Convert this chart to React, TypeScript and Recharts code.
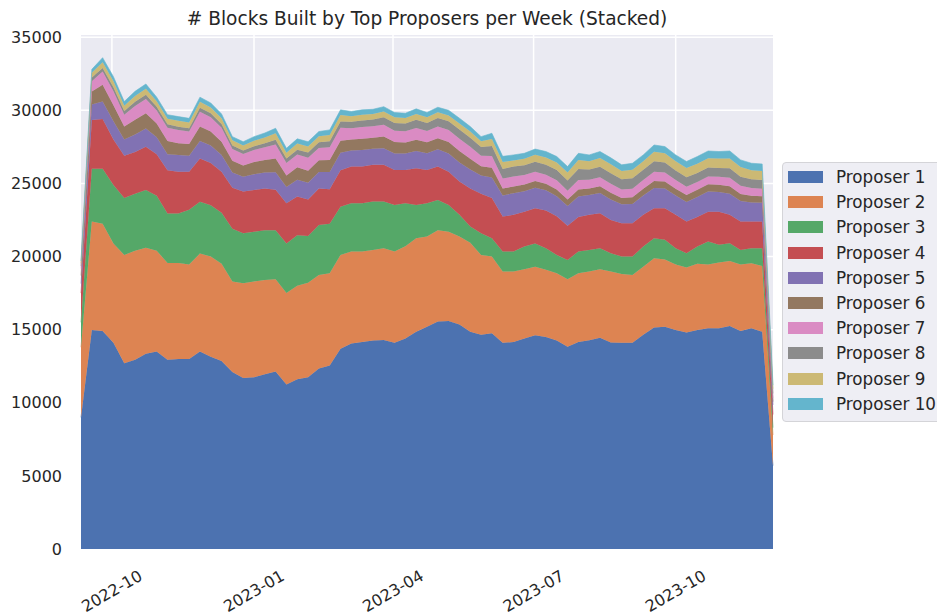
import { AreaChart, Area, XAxis, YAxis, CartesianGrid } from 'recharts'

// weekly buckets, pandas-style week ends (Sundays)
const WEEK_START = Date.UTC(2022, 8, 11)
const WEEK_COUNT = 65
const DAY = 86400000

const X_TICKS = [
	Date.UTC(2022, 9, 1),
	Date.UTC(2023, 0, 1),
	Date.UTC(2023, 3, 1),
	Date.UTC(2023, 6, 1),
	Date.UTC(2023, 9, 1),
]
const Y_TICKS = [0, 5000, 10000, 15000, 20000, 25000, 30000, 35000]

const SERIES_NAMES = [
	'Proposer 1',
	'Proposer 2',
	'Proposer 3',
	'Proposer 4',
	'Proposer 5',
	'Proposer 6',
	'Proposer 7',
	'Proposer 8',
	'Proposer 9',
	'Proposer 10',
]

// seaborn "deep" palette
const COLORS = ['#4C72B0', '#DD8452', '#55A868', '#C44E52', '#8172B3', '#937860', '#DA8BC3', '#8C8C8C', '#CCB974', '#64B5CD']

const p1 = [
	9000, 14980, 14900, 14100, 12700, 12950, 13350, 13500, 12950, 13000,
	13000, 13500, 13150, 12850, 12100, 11700, 11750, 11950, 12130, 11250,
	11600, 11750, 12350, 12550, 13700, 14050, 14150, 14250, 14300, 14100,
	14400, 14850, 15200, 15550, 15600, 15350, 14850, 14650, 14750, 14100,
	14150, 14400, 14620, 14500, 14250, 13830, 14150, 14280, 14450, 14120,
	14110, 14110, 14650, 15150, 15200, 14980, 14800, 14980, 15090, 15100,
	15250, 14900, 15090, 14860, 5700,
]
const p2 = [
	4800, 7420, 7350, 6800, 7400, 7450, 7250, 6900, 6600, 6550,
	6450, 6700, 6850, 6650, 6200, 6470, 6550, 6450, 6320, 6250,
	6400, 6450, 6390, 6310, 6400, 6290, 6190, 6200, 6270, 6240,
	6300, 6400, 6170, 6250, 6100, 6020, 6100, 5450, 5250, 4870,
	4820, 4730, 4680, 4600, 4610, 4620, 4700, 4690, 4680, 4850,
	4690, 4630, 4650, 4730, 4600, 4470, 4450, 4520, 4360, 4490,
	4450, 4550, 4450, 4500, 2100,
]
const p3 = [
	1700, 3600, 3750, 4000, 3900, 3900, 3950, 3750, 3400, 3400,
	3750, 3550, 3500, 3500, 3600, 3430, 3400, 3400, 3350, 3400,
	3450, 3200, 3410, 3390, 3300, 3300, 3300, 3310, 3190, 3190,
	2940, 2280, 2270, 2070, 1830, 1480, 1100, 1490, 1250, 1370,
	1370, 1550, 1600, 1470, 1240, 1320, 1490, 1480, 1440, 1260,
	1200, 1260, 1380, 1370, 1340, 1120, 980, 1180, 1570, 1210,
	1210, 1000, 1030, 1210, 500,
]
const p4 = [
	2000, 3340, 3400, 3100, 2900, 2850, 2950, 2850, 2950, 2850,
	2600, 2950, 2900, 2800, 2800, 2850, 2850, 2850, 2760, 2750,
	2650, 2500, 2500, 2350, 2500, 2510, 2510, 2510, 2510, 2390,
	2280, 2510, 2280, 2280, 2270, 2280, 2600, 2710, 2750, 2390,
	2510, 2390, 2400, 2580, 2650, 2330, 2360, 2400, 2390, 2270,
	2270, 2270, 2170, 2050, 2160, 2280, 2170, 2020, 2050, 2270,
	1940, 1950, 1820, 1820, 900,
]
const p5 = [
	650, 1050, 1210, 1250, 1100, 1200, 1250, 1150, 1100, 1140,
	1100, 1200, 1200, 1150, 1050, 1000, 1080, 1100, 1200, 1100,
	1150, 1150, 1130, 1180, 1200, 1100, 1130, 1100, 1140, 1130,
	1120, 1170, 1150, 1180, 1250, 1300, 1300, 1250, 1400, 1450,
	1480, 1400, 1400, 1380, 1380, 1350, 1400, 1350, 1380, 1400,
	1300, 1330, 1330, 1380, 1350, 1320, 1330, 1370, 1370, 1350,
	1450, 1400, 1300, 1280, 650,
]
const p6 = [
	550, 900, 1140, 1100, 900, 1000, 1050, 950, 900, 800,
	800, 1000, 950, 900, 800, 780, 830, 860, 950, 800,
	850, 820, 800, 820, 820, 750, 780, 760, 800, 780,
	760, 780, 740, 760, 780, 780, 740, 620, 680, 470,
	460, 460, 460, 450, 460, 450, 480, 450, 460, 460,
	440, 450, 460, 480, 480, 470, 470, 500, 500, 490,
	500, 480, 460, 450, 230,
]
const p7 = [
	480, 700, 910, 950, 800, 950, 980, 880, 900, 910,
	850, 1000, 980, 950, 800, 780, 820, 860, 950, 850,
	880, 880, 850, 880, 880, 780, 800, 780, 800, 780,
	760, 800, 770, 800, 820, 850, 820, 720, 800, 680,
	680, 650, 640, 620, 620, 600, 650, 600, 620, 610,
	580, 590, 600, 640, 620, 600, 580, 520, 530, 540,
	580, 560, 530, 520, 260,
]
const p8 = [
	160, 250, 230, 280, 260, 280, 280, 260, 250, 230,
	230, 270, 270, 260, 250, 240, 260, 280, 320, 300,
	330, 360, 380, 400, 440, 430, 450, 460, 520, 530,
	540, 560, 560, 580, 600, 620, 620, 600, 680, 660,
	680, 660, 680, 680, 700, 700, 760, 700, 720, 730,
	700, 720, 700, 720, 680, 650, 640, 620, 620, 610,
	650, 620, 600, 590, 300,
]
const p9 = [
	200, 320, 390, 400, 360, 400, 420, 380, 370, 410,
	390, 420, 400, 400, 350, 340, 370, 390, 450, 400,
	420, 420, 410, 430, 440, 390, 390, 380, 390, 380,
	370, 400, 380, 400, 400, 420, 420, 390, 480, 470,
	410, 440, 480, 500, 520, 540, 620, 560, 600, 610,
	560, 580, 580, 640, 640, 620, 640, 640, 640, 640,
	680, 660, 620, 620, 320,
]
const p10 = [
	160, 240, 320, 320, 280, 320, 320, 280, 280, 280,
	280, 310, 300, 290, 250, 260, 290, 310, 340, 300,
	320, 320, 330, 350, 350, 320, 330, 320, 330, 330,
	330, 350, 330, 340, 350, 360, 340, 320, 390, 390,
	390, 380, 390, 400, 410, 410, 450, 440, 440, 440,
	420, 440, 430, 470, 450, 440, 440, 490, 490, 480,
	510, 490, 480, 480, 240,
]

const SERIES = [p1, p2, p3, p4, p5, p6, p7, p8, p9, p10]

const FONT = '"DejaVu Sans", sans-serif'
const TEXT_COLOR = '#262626'

const data = Array.from({ length: WEEK_COUNT }, (_, i) => {
	const row: Record<string, number> = { t: WEEK_START + i * 7 * DAY }
	SERIES.forEach((s, k) => {
		row[`p${k + 1}`] = s[i]
	})
	return row
})

const formatMonth = (t: number) => {
	const d = new Date(t)
	return `${d.getUTCFullYear()}-${String(d.getUTCMonth() + 1).padStart(2, '0')}`
}

// matplotlib autofmt_xdate look: rotated 30deg, centred under the tick
const DateTick = ({ x, y, payload }: any) => {
	const cy = y + 42
	return (
		<text
			x={x}
			y={cy}
			textAnchor="middle"
			dominantBaseline="central"
			transform={`rotate(-30 ${x} ${cy})`}
			fontSize={16}
			fontFamily={FONT}
			fill={TEXT_COLOR}
		>
			{formatMonth(payload.value)}
		</text>
	)
}

export default function App() {
	return (
		<div style={{ position: 'absolute', left: 0, top: 0, width: 937, height: 616, background: '#fff', overflow: 'hidden', fontFamily: FONT }}>
			<div
				style={{
					position: 'absolute',
					left: 81,
					width: 692,
					top: 8,
					textAlign: 'center',
					fontSize: 18.6,
					color: TEXT_COLOR,
					lineHeight: '22px',
				}}
			>
				# Blocks Built by Top Proposers per Week (Stacked)
			</div>
			<AreaChart width={937} height={616} data={data} margin={{ top: 35, right: 164, bottom: 0, left: 0 }}>
				<CartesianGrid fill="#EAEAF2" stroke="#ffffff" strokeWidth={1.5} horizontalValues={Y_TICKS} verticalValues={X_TICKS} />
				<XAxis
					dataKey="t"
					type="number"
					domain={[WEEK_START, WEEK_START + (WEEK_COUNT - 1) * 7 * DAY]}
					ticks={X_TICKS}
					tick={<DateTick />}
					axisLine={false}
					tickLine={false}
					tickSize={0}
					tickMargin={0}
					height={67}
					interval={0}
				/>
				<YAxis
					type="number"
					domain={[0, 35150]}
					ticks={Y_TICKS}
					axisLine={false}
					tickLine={false}
					tickSize={0}
					tickMargin={19}
					width={81}
					interval={0}
					tick={{ fontSize: 16, fontFamily: FONT, fill: TEXT_COLOR }}
				/>
				{SERIES_NAMES.map((name, k) => (
					<Area
						key={name}
						type="linear"
						dataKey={`p${k + 1}`}
						name={name}
						stackId="1"
						fill={COLORS[k]}
						fillOpacity={1}
						stroke={COLORS[k]}
						strokeWidth={0.6}
						isAnimationActive={false}
						dot={false}
						activeDot={false}
					/>
				))}
			</AreaChart>
			<div
				style={{
					position: 'absolute',
					left: 782,
					top: 162,
					width: 170,
					height: 260,
					background: '#EEEEF4',
					border: '1px solid #D4D4D8',
					borderRadius: 4,
					boxSizing: 'border-box',
				}}
			>
				{SERIES_NAMES.map((name, k) => (
					<div key={name} style={{ position: 'absolute', left: 0, top: 14 + k * 25.2 - 12, height: 24, width: 170 }}>
						<div style={{ position: 'absolute', left: 5, top: 6, width: 35, height: 12, background: COLORS[k] }} />
						<div style={{ position: 'absolute', left: 53, top: 0, lineHeight: '24px', fontSize: 16.75, color: TEXT_COLOR, whiteSpace: 'nowrap' }}>
							{name}
						</div>
					</div>
				))}
			</div>
		</div>
	)
}
